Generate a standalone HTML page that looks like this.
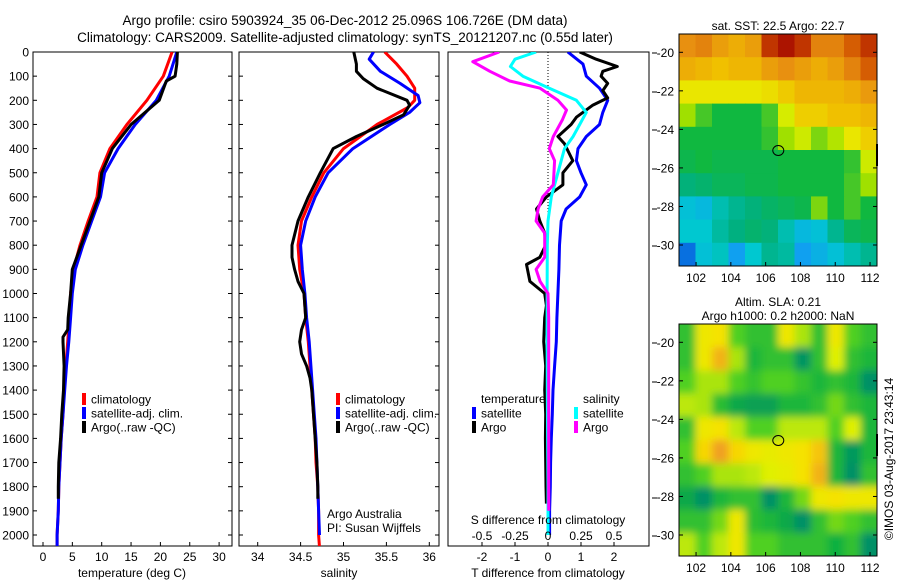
<!DOCTYPE html>
<html><head><meta charset="utf-8"><title>Argo profile</title>
<style>
html,body{margin:0;padding:0;background:#fff;}
svg{display:block;font-family:"Liberation Sans",sans-serif;}
text{fill:#000;}
</style></head>
<body>
<svg id="chart" width="900" height="580" viewBox="0 0 900 580" xmlns="http://www.w3.org/2000/svg">
<defs>
<clipPath id="cp1"><rect x="33" y="52" width="199" height="494"/></clipPath>
<clipPath id="cp2"><rect x="239" y="52" width="200" height="494"/></clipPath>
<clipPath id="cp3"><rect x="448" y="52" width="201" height="494"/></clipPath>
<clipPath id="cpm1"><rect x="679" y="34" width="198" height="232"/></clipPath>
<clipPath id="cpm2"><rect x="679" y="324" width="198" height="232"/></clipPath>
<filter id="blur" x="-5%" y="-5%" width="110%" height="110%"><feGaussianBlur stdDeviation="4"/></filter>
</defs>
<rect x="0" y="0" width="900" height="580" fill="#fff"/>
<text x="345" y="25" font-size="13.5" text-anchor="middle">Argo profile: csiro 5903924_35 06-Dec-2012 25.096S 106.726E (DM data)</text>
<text x="345" y="42" font-size="13.5" text-anchor="middle">Climatology: CARS2009. Satellite-adjusted climatology: synTS_20121207.nc (0.55d later)</text>
<g id="g1"></g>
<g id="g2"></g>
<g id="g3"></g>
<g id="gm1"></g>
<g id="gm2"></g>
<text x="0" y="0" font-size="12" text-anchor="middle" transform="translate(893,459) rotate(-90)">©IMOS 03-Aug-2017 23:43:14</text>
</svg>
<script>
// ---------- data: temperature ----------
const tClimDepth = [0,100,200,300,400,500,600,700,800,900,1000,1100,1200,1300,1400,1500,1600,1700,1800,1900,2000,2050];
const tClimVal   = [22.0,20.5,17.7,14.3,11.4,9.7,9.2,7.7,6.3,5.2,4.7,4.5,4.2,3.9,3.6,3.4,3.1,2.9,2.7,2.6,2.4,2.4];
const tSatDepth  = [0,100,200,300,400,500,600,700,800,900,1000,1100,1200,1300,1400,1500,1600,1700,1800,1900,2000,2050];
const tSatVal    = [22.8,21.5,19.3,15.7,12.8,10.5,9.8,8.3,6.8,5.5,5.0,4.7,4.4,4.0,3.7,3.4,3.1,2.9,2.7,2.6,2.4,2.4];
const tArgoDepth = [0,50,100,120,200,300,400,500,600,700,800,900,1000,1100,1150,1180,1200,1300,1400,1500,1600,1700,1800,1850];
const tArgoVal   = [22.9,22.8,22.5,21.0,19.8,15.0,11.8,10.0,9.5,8.0,6.5,5.0,4.7,4.3,4.2,3.4,3.4,3.6,3.5,3.2,3.0,2.7,2.6,2.6];
const tTicks = [0,5,10,15,20,25,30];
// ---------- data: salinity ----------
const sClimDepth = [0,50,100,150,200,230,300,400,500,600,700,800,900,1000,1100,1200,1300,1400,1500,1600,1700,1800,1900,2000,2050];
const sClimVal   = [35.48,35.62,35.74,35.83,35.83,35.75,35.39,35.0,34.77,34.63,34.51,34.47,34.49,34.54,34.56,34.59,34.61,34.63,34.65,34.67,34.68,34.70,34.71,34.71,34.72];
const sSatDepth  = [0,30,80,130,180,210,250,300,400,500,600,700,800,900,1000,1100,1200,1300,1400,1500,1600,1700,1800,1900,2000];
const sSatVal    = [35.35,35.30,35.43,35.66,35.87,35.89,35.77,35.54,35.11,34.82,34.67,34.56,34.50,34.52,34.55,34.57,34.60,34.62,34.64,34.66,34.68,34.69,34.70,34.71,34.72];
const sArgoDepth = [0,50,80,110,150,200,220,260,300,350,400,500,600,700,800,850,900,950,1000,1100,1150,1200,1250,1300,1350,1400,1500,1600,1700,1800,1850];
const sArgoVal   = [35.12,35.15,35.15,35.23,35.39,35.74,35.77,35.70,35.46,35.15,34.88,34.73,34.59,34.47,34.40,34.40,34.43,34.47,34.54,34.56,34.51,34.49,34.51,34.57,34.61,34.63,34.65,34.67,34.69,34.70,34.70];
const sTicks = [34,34.5,35,35.5,36];
// ---------- data: differences ----------
const dTSatDepth = [0,50,100,150,200,250,300,350,400,450,500,550,600,650,700,800,900,1000,1100,1200,1300,1400,1500,1600,1700,1800,1900,2000];
const dTSatVal   = [0.6,1.06,1.16,1.56,1.81,1.66,1.56,1.16,0.91,0.86,1.0,1.16,0.96,0.55,0.4,0.35,0.33,0.3,0.27,0.25,0.2,0.15,0.13,0.1,0.08,0.07,0.05,0.05];
const dTArgoDepth = [0,30,60,80,100,130,160,190,220,270,300,350,380,450,500,550,600,650,700,750,800,850,880,950,1000,1050,1100,1200,1300,1400,1500,1600,1700,1800,1870];
const dTArgoVal   = [0.96,1.46,2.1,1.66,1.61,1.81,1.66,1.81,1.36,0.86,0.7,0.3,0.5,0.75,0.45,0.45,-0.05,-0.35,-0.25,-0.1,-0.07,-0.25,-0.65,-0.55,-0.1,-0.05,-0.1,-0.13,-0.07,-0.1,-0.07,-0.08,-0.07,-0.06,-0.05];
const dSSatDepth = [0,30,60,100,150,200,250,300,350,400,500,600,700,800,1000,1200,1400,1600,1800,2000];
const dSSatVal   = [-0.09,-0.25,-0.285,-0.19,0.01,0.215,0.29,0.24,0.19,0.125,0.075,0.025,0,-0.005,-0.007,-0.007,-0.005,-0.003,0,0];
const dSArgoDepth = [0,40,80,120,150,200,240,280,350,400,450,550,600,650,700,750,850,900,950,1000,1100,1300,1500,1700,1900];
const dSArgoVal   = [-0.37,-0.57,-0.44,-0.29,-0.06,0.075,0.14,0.11,0.04,0.01,0.05,0.04,-0.04,-0.075,-0.09,-0.025,-0.025,-0.09,-0.06,0,0.005,0.005,0.005,0.005,0.005];
const dTTicks = [-2,-1,0,1,2];
const dSTicks = [-0.5,-0.25,0,0.25,0.5];
const dSTickLabels = ["-0.5","-0.25","0","0.25","0.5"];
const depthTicks = [0,100,200,300,400,500,600,700,800,900,1000,1100,1200,1300,1400,1500,1600,1700,1800,1900,2000];
// ---------- data: maps ----------
const sstGrid = [
[.78,.8,.75,.72,.75,.92,.97,.92,.8,.8,.86,.92],
[.72,.7,.68,.7,.7,.75,.78,.75,.72,.75,.8,.86],
[.6,.6,.6,.6,.6,.62,.66,.7,.7,.7,.72,.76],
[.5,.45,.42,.42,.42,.45,.56,.65,.65,.68,.68,.7],
[.42,.42,.42,.42,.42,.44,.5,.55,.48,.52,.6,.65],
[.4,.42,.4,.4,.4,.4,.42,.42,.42,.42,.44,.55],
[.33,.35,.38,.38,.4,.4,.42,.42,.42,.42,.45,.5],
[.2,.18,.26,.3,.33,.36,.38,.4,.48,.42,.45,.42],
[.22,.22,.28,.32,.35,.33,.26,.18,.2,.3,.38,.4],
[.06,.2,.24,.12,.22,.3,.28,.12,.16,.2,.26,.3]];
const slaGrid = [
[.45,.62,.64,.5,.45,.45,.62,.55,.45,.62,.5,.45],
[.45,.62,.7,.55,.42,.45,.45,.33,.45,.58,.45,.42],
[.5,.55,.55,.5,.46,.5,.5,.46,.42,.45,.42,.32],
[.56,.55,.44,.38,.36,.36,.42,.42,.45,.52,.45,.42],
[.45,.62,.64,.56,.5,.5,.56,.56,.56,.5,.58,.42],
[.5,.66,.72,.66,.62,.6,.62,.64,.68,.42,.34,.42],
[.45,.5,.55,.55,.56,.58,.6,.64,.7,.42,.32,.45],
[.38,.32,.42,.45,.45,.32,.42,.52,.62,.64,.62,.62],
[.45,.45,.52,.62,.44,.42,.38,.32,.45,.52,.5,.45],
[.56,.5,.56,.62,.5,.5,.45,.45,.45,.4,.45,.32]];
const lonTicks = [102,104,106,108,110,112];
const latTicks = [20,22,24,26,28,30];
const argoLon = [106.726];
const argoLat = [25.096];

const NS="http://www.w3.org/2000/svg";
function el(parent, tag, attrs, txt){
  const e=document.createElementNS(NS,tag);
  for(const k in attrs) e.setAttribute(k,attrs[k]);
  if(txt!==undefined) e.textContent=txt;
  parent.appendChild(e); return e;
}
const yD = d => 52 + d*0.2415;
const xT = v => 43 + v*5.87;
const xS = v => 257.7 + (v-34)*85.8;
const xDT = v => 548 + v*33.0;
const xDS = v => 548 + v*132.0;

function line(g, ds, vs, xf, color, w, clip, name){
  let p='';
  for(let i=0;i<ds.length;i++) p += (i?'L':'M')+xf(vs[i]).toFixed(1)+','+yD(ds[i]).toFixed(1);
  const e=el(g,'path',{d:p,fill:'none',stroke:color,'stroke-width':w,'stroke-linejoin':'round','clip-path':'url(#'+clip+')'});
  
  
}
function box(g,x,y,w,h,name){
  const e=el(g,'rect',{x:x,y:y,width:w,height:h,fill:'none',stroke:'#000','stroke-width':1});
  
  
}
function depthTickMarks(g,x0,x1,labels){
  depthTicks.forEach(d=>{
    el(g,'line',{x1:x0,x2:x0+4,y1:yD(d),y2:yD(d),stroke:'#000'});
    el(g,'line',{x1:x1,x2:x1-4,y1:yD(d),y2:yD(d),stroke:'#000'});
    if(labels){
      const t=el(g,'text',{x:29,y:yD(d)+4.5,'font-size':12,'text-anchor':'end'},String(d));
      
      
    }
  });
}
function legend(g,x,y,color,label){
  el(g,'rect',{x:x-2,y:y-6,width:4,height:12,fill:color});
  const t=el(g,'text',{x:x+7,y:y+4.5,'font-size':12},label);
  
  
}

// ---- panel 1 ----
const g1=document.getElementById('g1');
box(g1,33,52,199,494,'temperature-plot-area');
depthTickMarks(g1,33,232,true);
tTicks.forEach(v=>{
  el(g1,'line',{x1:xT(v),x2:xT(v),y1:546,y2:542,stroke:'#000'});
  const t=el(g1,'text',{x:xT(v),y:561,'font-size':12,'text-anchor':'middle'},String(v));
  
  
});
line(g1,tClimDepth,tClimVal,xT,'#ff0000',3,'cp1','temperature-climatology-line');
line(g1,tSatDepth,tSatVal,xT,'#0000ff',3,'cp1','temperature-satellite-line');
line(g1,tArgoDepth,tArgoVal,xT,'#000000',3,'cp1','temperature-argo-line');
legend(g1,84,399,'#ff0000','climatology');
legend(g1,84,413,'#0000ff','satellite-adj. clim.');
legend(g1,84,427,'#000000','Argo(..raw -QC)');
el(g1,'text',{x:132,y:577,'font-size':12,'text-anchor':'middle'},'temperature (deg C)');

// ---- panel 2 ----
const g2=document.getElementById('g2');
box(g2,239,52,200,494,'salinity-plot-area');
depthTickMarks(g2,239,439,false);
sTicks.forEach(v=>{
  el(g2,'line',{x1:xS(v),x2:xS(v),y1:546,y2:542,stroke:'#000'});
  const t=el(g2,'text',{x:xS(v),y:561,'font-size':12,'text-anchor':'middle'},String(v));
  
  
});
line(g2,sClimDepth,sClimVal,xS,'#ff0000',3,'cp2','salinity-climatology-line');
line(g2,sSatDepth,sSatVal,xS,'#0000ff',3,'cp2','salinity-satellite-line');
line(g2,sArgoDepth,sArgoVal,xS,'#000000',3,'cp2','salinity-argo-line');
legend(g2,338,399,'#ff0000','climatology');
legend(g2,338,413,'#0000ff','satellite-adj. clim.');
legend(g2,338,427,'#000000','Argo(..raw -QC)');
el(g2,'text',{x:327,y:518,'font-size':12},'Argo Australia');
el(g2,'text',{x:327,y:532,'font-size':12},'PI: Susan Wijffels');
el(g2,'text',{x:339,y:577,'font-size':12,'text-anchor':'middle'},'salinity');

// ---- panel 3 ----
const g3=document.getElementById('g3');
box(g3,448,52,201,494,'difference-plot-area');
[53,92,130,169,209,246,343,382,420,459,498,536].forEach(y=>{
  el(g3,'line',{x1:652,x2:657,y1:y,y2:y,stroke:'#000'});
});
el(g3,'line',{x1:xDT(0),x2:xDT(0),y1:52,y2:260,stroke:'#000','stroke-dasharray':'1,2'});
dTTicks.forEach(v=>{
  el(g3,'line',{x1:xDT(v),x2:xDT(v),y1:546,y2:542,stroke:'#000'});
  const t=el(g3,'text',{x:xDT(v),y:561,'font-size':12,'text-anchor':'middle'},String(v));
  
  
});
line(g3,dTSatDepth,dTSatVal,xDT,'#0000ff',3,'cp3','t-diff-satellite-line');
line(g3,dTArgoDepth,dTArgoVal,xDT,'#000000',3,'cp3','t-diff-argo-line');
line(g3,dSSatDepth,dSSatVal,xDS,'#00ffff',3,'cp3','s-diff-satellite-line');
line(g3,dSArgoDepth,dSArgoVal,xDS,'#ff00ff',3,'cp3','s-diff-argo-line');
dSTicks.forEach((v,i)=>{
  const t=el(g3,'text',{x:xDS(v),y:540,'font-size':12,'text-anchor':'middle'},dSTickLabels[i]);
  
  
});
el(g3,'text',{x:548,y:524,'font-size':12,'text-anchor':'middle'},'S difference from climatology');
el(g3,'text',{x:548,y:577,'font-size':12,'text-anchor':'middle'},'T difference from climatology');
el(g3,'text',{x:481,y:403,'font-size':12},'temperature');
el(g3,'text',{x:583,y:403,'font-size':12},'salinity');
legend(g3,474,413,'#0000ff','satellite');
legend(g3,474,427,'#000000','Argo');
legend(g3,576,413,'#00ffff','satellite');
legend(g3,576,427,'#ff00ff','Argo');

// ---- maps ----
function hex(c){return [parseInt(c.substr(1,2),16),parseInt(c.substr(3,2),16),parseInt(c.substr(5,2),16)];}
function cmap(stops,v){
  if(v<=stops[0][0]) return stops[0][1];
  for(let i=1;i<stops.length;i++){
    if(v<=stops[i][0]){
      const a=hex(stops[i-1][1]),b=hex(stops[i][1]);
      const f=(v-stops[i-1][0])/(stops[i][0]-stops[i-1][0]);
      return 'rgb('+a.map((x,j)=>Math.round(x+(b[j]-x)*f)).join(',')+')';
    }
  }
  return stops[stops.length-1][1];
}
const sstStops=[[0,'#0040d0'],[0.12,'#10a0f0'],[0.22,'#00c8d0'],[0.32,'#00b080'],[0.42,'#10b840'],[0.5,'#a0e000'],[0.58,'#e8f000'],[0.68,'#f0c000'],[0.78,'#e89010'],[0.88,'#d05000'],[1,'#a00000']];
const slaStops=[[0.3,'#008870'],[0.4,'#10b040'],[0.5,'#50d020'],[0.58,'#e0f000'],[0.65,'#f8e000'],[0.72,'#f0a020']];

function drawMap(g,top,grid,stops,clip,blur,titles,name){
  const left=679,w=198,h=232,lat0=19.05,lat1=31.09,lon0=101.02,lon1=112.4;
  const xL=lon=>left+(lon-lon0)/(lon1-lon0)*w;
  const yL=lat=>top+(lat-lat0)/(lat1-lat0)*h;
  const cg=el(g,'g',{'clip-path':'url(#'+clip+')'});
  const ig=el(cg,'g',blur?{filter:'url(#blur)'}:{});
  const rows=grid.length, cols=grid[0].length;
  const cw=w/cols, ch=h/rows;
  for(let r=-1;r<=rows;r++) for(let c=-1;c<=cols;c++){
    const rr=Math.min(rows-1,Math.max(0,r)), cc=Math.min(cols-1,Math.max(0,c));
    const e=el(ig,'rect',{x:(left+c*cw).toFixed(2),y:(top+r*ch).toFixed(2),width:(cw+0.6).toFixed(2),height:(ch+0.6).toFixed(2),fill:cmap(stops,grid[rr][cc])});
    
    
  }
  box(g,left,top,w,h,name+'-frame');
  const ci=el(g,'ellipse',{cx:xL(argoLon[0]),cy:yL(argoLat[0]),rx:5.5,ry:5,fill:'none',stroke:'#000','stroke-width':1});
  
  
  el(g,'line',{x1:877,x2:877,y1:top+110,y2:top+132,stroke:'#000','stroke-width':2});
  latTicks.forEach(v=>{
    el(g,'line',{x1:left,x2:left+4,y1:yL(v),y2:yL(v),stroke:'#000'});
    el(g,'line',{x1:left+w,x2:left+w-4,y1:yL(v),y2:yL(v),stroke:'#000'});
    const t=el(g,'text',{x:674,y:yL(v)+4.5,'font-size':12,'text-anchor':'end'},'-'+v);
    
    
  });
  lonTicks.forEach(v=>{
    el(g,'line',{x1:xL(v),x2:xL(v),y1:top+h,y2:top+h-4,stroke:'#000'});
    const t=el(g,'text',{x:xL(v),y:top+h+16,'font-size':12,'text-anchor':'middle'},String(v));
    
    
  });
  titles.forEach((s,i)=>{
    const t=el(g,'text',{x:778,y:top-titles.length*14+10+i*14,'font-size':12,'text-anchor':'middle'},s);
    
    
  });
}
drawMap(document.getElementById('gm1'),34,sstGrid,sstStops,'cpm1',false,['sat. SST: 22.5 Argo: 22.7'],'sst-map');
drawMap(document.getElementById('gm2'),324,slaGrid,slaStops,'cpm2',true,['Altim. SLA: 0.21','Argo h1000: 0.2 h2000: NaN'],'sla-map');
</script>
</body></html>
